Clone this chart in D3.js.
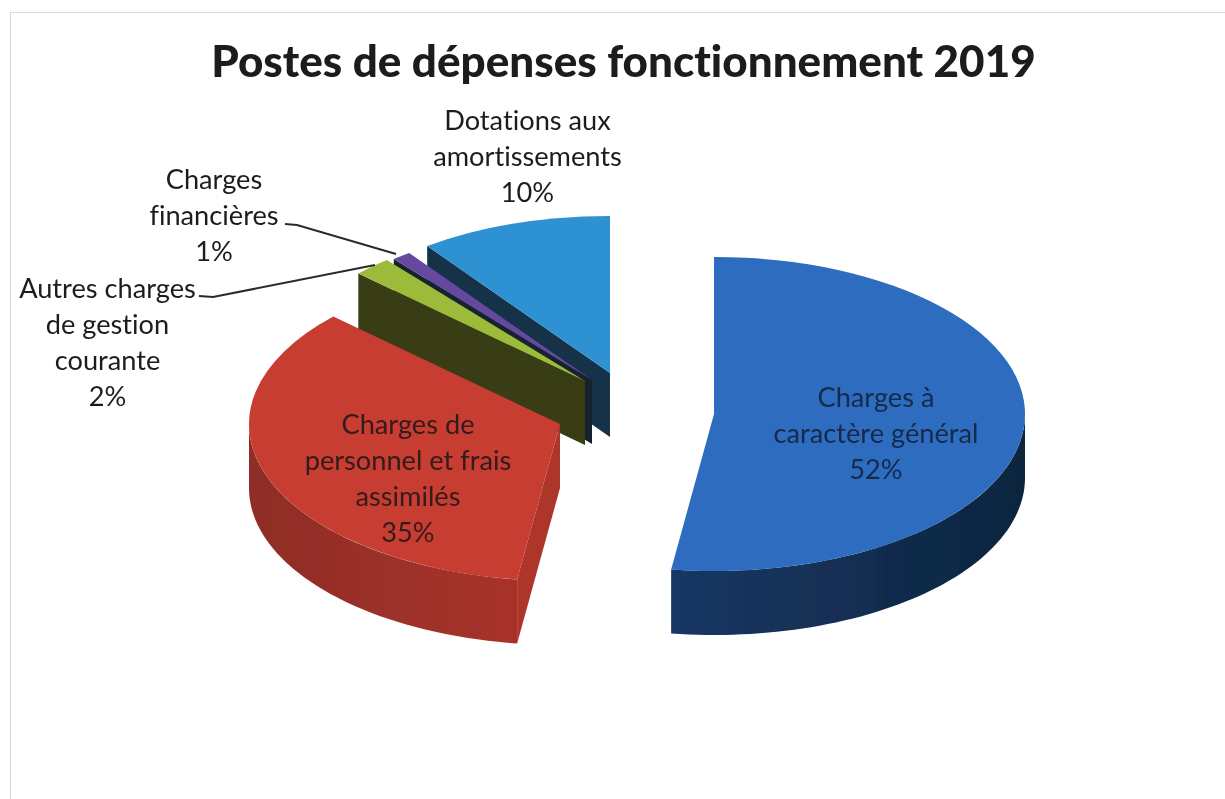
<!DOCTYPE html>
<html><head><meta charset="utf-8">
<script src="https://cdn.jsdelivr.net/npm/d3@7/dist/d3.min.js"></script>
<style>html,body{margin:0;background:#fff;overflow:hidden}text{font-family:Lato,"Open Sans",sans-serif;font-variant-ligatures:none;font-kerning:normal}</style>
</head><body><svg id="c" width="1225" height="799"></svg>
<script>
const title = "Postes de dépenses fonctionnement 2019";
const categories = ["Charges à caractère général","Charges de personnel et frais assimilés","Autres charges de gestion courante","Charges financières","Dotations aux amortissements"];
const values = [52.2,34.8,2,1,10];
const topColors = ["#2d6cbf","#c83c33","#9dbb3b","#66499f","#2f92d2"];
const rimColorsNear = ["#153763","#a8332b","#3a3f15","#2a2040","#12344f"];
const rimColorsFar = ["#0f2540","#8e2d27","#3a3f15","#2a2040","#12344f"];
const startWallColors = ["#153a68","#ad342c","#383c14","#14242e","#12304a"];
const labelColors = ["#17294a","#331a1a","#1d1d1d","#1d1d1d","#1d1d1d"];
const apexX = [714,560,585,592,610];
const apexY = [414,424,381,380,373];
const labelLines = [["Charges à","caractère général","52%"],["Charges de","personnel et frais","assimilés","35%"],["Autres charges","de gestion","courante","2%"],["Charges","financières","1%"],["Dotations aux","amortissements","10%"]];
const labelX = [876,408,107.5,214,527.5];
const labelY = [407,434,298,189,130];
const leaderPaths = [null,null,[[199,296],[213,297],[375,265]],[[285,224],[297,225],[396,254]],null];
const rx=311, ry=157, depth=64, lineH=36;

const svg=d3.select("#c");
const defs=svg.append("defs");
defs.append("filter").attr("id","scan").attr("x",0).attr("y",0).attr("width",1).attr("height",1)
  .append("feGaussianBlur").attr("stdDeviation",0.45);
const root=svg.append("g").attr("filter","url(#scan)");
// scanned frame
root.append("path").attr("d",d3.line()([[10,799],[10,12],[1225,12]])).attr("fill","none").attr("stroke","#cfcfcf").attr("stroke-width",1.6);
root.append("text").attr("x",623.5).attr("y",77).attr("text-anchor","middle").attr("font-size",44).attr("font-weight",900).style("fill","#1a1a1a").text(title);

const pie=d3.pie().sort(null).value(d=>d);
const arcs=pie(values);
const arc=d3.arc().innerRadius(0).outerRadius(rx);
const proj=(i,a,dz=0)=>[apexX[i]+rx*Math.sin(a),apexY[i]-ry*Math.cos(a)+dz];
const line=d3.line();

function drawSlice(i){
  const d=arcs[i], g=root.append("g");
  const a0=Math.max(d.startAngle,Math.PI/2), a1=Math.min(d.endAngle,Math.PI*1.5);
  if(a1>a0){
    const grad=defs.append("linearGradient").attr("id","rim"+i);
    const leftIsNear = i===0;
    grad.append("stop").attr("offset","0%").attr("stop-color",leftIsNear?rimColorsNear[i]:rimColorsFar[i]);
    grad.append("stop").attr("offset","100%").attr("stop-color",leftIsNear?rimColorsFar[i]:rimColorsNear[i]);
    const as=d3.range(0,61).map(k=>a0+(a1-a0)*k/60);
    const pts=as.map(a=>proj(i,a)).concat(as.slice().reverse().map(a=>proj(i,a,depth)));
    g.append("path").attr("d",line(pts)+"Z").attr("fill",`url(#rim${i})`);
  }
  if(d.startAngle>=Math.PI){
    const p=proj(i,d.startAngle), q=[apexX[i],apexY[i]];
    g.append("path").attr("d",line([q,p,[p[0],p[1]+depth],[q[0],q[1]+depth]])+"Z").attr("fill",startWallColors[i]);
  }
  g.append("path").attr("d",arc(d)).attr("transform",`translate(${apexX[i]},${apexY[i]}) scale(1,${ry/rx})`).attr("fill",topColors[i]);
}
[4,3,2,1,0].forEach(drawSlice);

leaderPaths.forEach(p=>{ if(p) root.append("path").attr("d",line(p)).attr("stroke","#2b2b2b").attr("stroke-width",2).attr("fill","none"); });

labelLines.forEach((ls,i)=>{
  const t=root.append("text").attr("text-anchor","middle").attr("font-size",27.2).style("fill",labelColors[i]);
  ls.forEach((s,k)=>t.append("tspan").attr("x",labelX[i]).attr("y",labelY[i]+k*lineH).text(s));
});
</script></body></html>
